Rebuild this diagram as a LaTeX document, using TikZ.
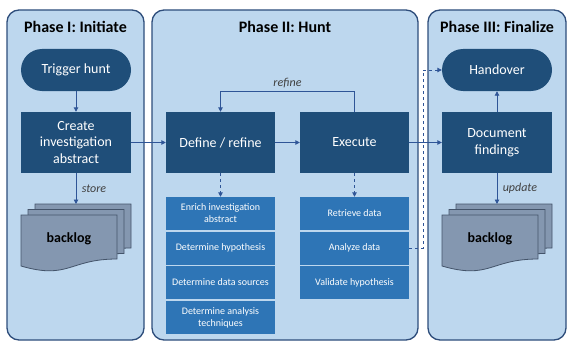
\documentclass[tikz,border=0pt]{standalone}
\usepackage{fontspec}
\setmainfont{Carlito}
\usetikzlibrary{arrows.meta}
\definecolor{panelfill}{HTML}{BDD7EE}
\definecolor{panelline}{HTML}{2E4D7B}
\definecolor{darkbox}{HTML}{1F4E79}
\definecolor{subbox}{HTML}{2E75B6}
\definecolor{flow}{HTML}{2F5597}
\definecolor{sheetfill}{HTML}{8497B0}
\definecolor{sheetline}{HTML}{44546A}
\definecolor{labeltext}{HTML}{404040}

% one sheet of a stacked document symbol, top-left corner at (#1,#2)
\newcommand{\docsheet}[2]{%
  \filldraw[fill=sheetfill, draw=sheetline, line width=0.8pt]
    (#1,#2) -- ++(96,0) -- ++(0,44)
    .. controls ++(-48,0) and ++(48,14) .. ++(-96,7) -- cycle;}

\begin{document}
\begin{tikzpicture}[x=1pt, y=-1pt,
  panel/.style={draw=panelline, fill=panelfill, line width=1.3pt,
    rounded corners=12pt, inner sep=0pt},
  phasetitle/.style={font=\fontsize{16}{19}\selectfont\bfseries, text=black},
  stepbox/.style={fill=darkbox, text=white, align=center,
    minimum width=110pt, minimum height=61pt, inner sep=2pt,
    font=\fontsize{14}{16.7}\selectfont},
  terminal/.style={fill=darkbox, text=white, align=center,
    minimum width=110pt, minimum height=42pt, rounded corners=21pt,
    font=\fontsize{14}{16.7}\selectfont},
  taskbox/.style={fill=subbox, text=white, align=center,
    minimum width=109pt, minimum height=33pt, inner sep=1pt,
    font=\fontsize{10}{12}\selectfont},
  flowarrow/.style={draw=flow, line width=0.9pt,
    -{Triangle[length=4.5pt, width=4.5pt]}},
  edgelabel/.style={font=\fontsize{12}{14}\selectfont\itshape, text=labeltext},
  sheettext/.style={font=\fontsize{14}{16}\selectfont\bfseries, text=black}
]
\useasboundingbox (0,0) rectangle (575,345);
\fill[white] (0,0) rectangle (575,345);

% phase panels
\node[panel, minimum width=137pt, minimum height=330pt] (p1) at (75.5,175) {};
\node[panel, minimum width=266pt, minimum height=330pt] (p2) at (285,175) {};
\node[panel, minimum width=138pt, minimum height=330pt] (p3) at (497,175) {};

\node[phasetitle] (t1) at (75.5,27) {Phase I: Initiate};
\node[phasetitle] (t2) at (285,27) {Phase II: Hunt};
\node[phasetitle] (t3) at (497,27) {Phase III: Finalize};

% Phase I
\node[terminal] (trig) at (76,70) {Trigger hunt};
\node[stepbox] (crt) at (76,142.5) {Create\\investigation\\abstract};
\docsheet{35}{204}
\docsheet{28}{209.5}
\docsheet{21}{215}
\coordinate (bl1) at (76,204);
\node[sheettext] (bl1t) at (69,239) {backlog};

% Phase II
\node[stepbox, minimum width=109pt] (def) at (220.5,142.5) {Define / refine};
\node[stepbox, minimum width=109pt] (exe) at (354.5,142.5) {Execute};

\node[taskbox] (enr) at (220.5,213.5) {Enrich investigation\\abstract};
\node[taskbox] (hyp) at (220.5,248) {Determine hypothesis};
\node[taskbox] (src) at (220.5,282.5) {Determine data sources};
\node[taskbox] (tec) at (220.5,317.5) {Determine analysis\\techniques};

\node[taskbox] (ret) at (354.5,213.5) {Retrieve data};
\node[taskbox] (ana) at (354.5,248) {Analyze data};
\node[taskbox] (val) at (354.5,282.5) {Validate hypothesis};

% Phase III
\node[terminal] (hand) at (497,70) {Handover};
\node[stepbox] (doc) at (497,142.5) {Document\\findings};
\docsheet{456}{204}
\docsheet{449}{209.5}
\docsheet{442}{215}
\coordinate (bl3) at (497,204);
\node[sheettext] (bl3t) at (490,239) {backlog};

% connectors
\draw[flowarrow] (trig) -- (crt);
\draw[flowarrow] (crt) -- node[edgelabel, right, xshift=2pt] {store} (bl1);
\draw[flowarrow] (crt) -- (def);
\draw[flowarrow] (def) -- (exe);
\draw[flowarrow] (exe) -- (doc);
\draw[flowarrow] (exe.north) -- ++(0,-20) -| node[edgelabel, pos=0.25, above] {refine} (def.north);
\draw[flowarrow, dashed] (def) -- (enr);
\draw[flowarrow, dashed] (exe) -- (ret);
\coordinate (bend) at (423,248);
\draw[flowarrow, dashed] (ana.east) -- (bend) |- (hand.west);
\draw[flowarrow] (doc) -- (hand);
\draw[flowarrow] (doc) -- node[edgelabel, right, xshift=2pt] {update} (bl3);
\end{tikzpicture}
\end{document}
